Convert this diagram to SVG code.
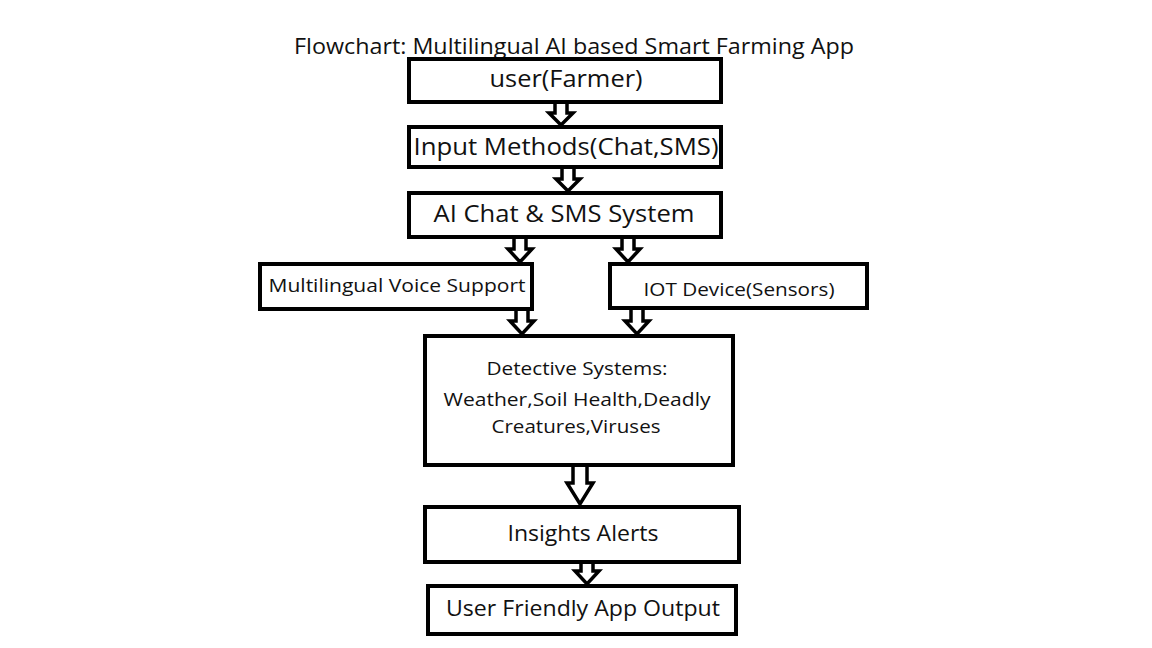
<svg xmlns="http://www.w3.org/2000/svg" width="1152" height="648" viewBox="0 0 1152 648">
<style>
.box{fill:#fff;stroke:#000;stroke-width:4}
.arr{fill:#fff;stroke:#000;stroke-width:3.5;stroke-linejoin:miter}
text{font-family:"Open Sans","Liberation Sans",sans-serif;fill:#111;text-anchor:middle}
.t24{font-size:23px}
.t19{font-size:18.5px}
.t21{font-size:21px}
</style>
<rect width="1152" height="648" fill="#fff"/>
<text x="574" y="54" font-size="21" textLength="560" lengthAdjust="spacingAndGlyphs">Flowchart: Multilingual AI based Smart Farming App</text>
<g id="connectors">
<polygon class="arr" points="555,100 567,100 567,113 573,113 561,125 549,113 555,113"/>
<polygon class="arr" points="562,165 574,165 574,179 580,179 568,191 556,179 562,179"/>
<polygon class="arr" points="514,235 526,235 526,249 532,249 520,262 508,249 514,249"/>
<polygon class="arr" points="622,235 634,235 634,249 640,249 628,262 616,249 622,249"/>
<polygon class="arr" points="516,307 528,307 528,321 534,321 522,334 510,321 516,321"/>
<polygon class="arr" points="631,306 643,306 643,321 649,321 637,334 625,321 631,321"/>
<polygon class="arr" points="573,463 587,463 587,483 593,483 580,504 567,483 573,483"/>
<polygon class="arr" points="581,560 593,560 593,571 599,571 587,584 575,571 581,571"/>
</g>
<g id="n1"><rect class="box" x="409" y="59" width="312" height="43"/><text class="t24" x="566" y="87" textLength="153" lengthAdjust="spacingAndGlyphs">user(Farmer)</text></g>
<g id="n2"><rect class="box" x="409" y="127" width="312" height="40"/><text class="t24" x="566" y="155" textLength="305" lengthAdjust="spacingAndGlyphs">Input Methods(Chat,SMS)</text></g>
<g id="n3"><rect class="box" x="409" y="193" width="312" height="44"/><text class="t24" x="564" y="222" textLength="261" lengthAdjust="spacingAndGlyphs">AI Chat &amp; SMS System</text></g>
<g id="n4"><rect class="box" x="260" y="264" width="272" height="45"/><text class="t19" x="397" y="292" textLength="257" lengthAdjust="spacingAndGlyphs">Multilingual Voice Support</text></g>
<g id="n5"><rect class="box" x="610" y="264" width="257" height="44"/><text class="t19" x="739" y="296" textLength="191" lengthAdjust="spacingAndGlyphs">IOT Device(Sensors)</text></g>
<g id="n6"><rect class="box" x="425" y="336" width="308" height="129"/>
<text class="t19" x="577" y="375" textLength="181" lengthAdjust="spacingAndGlyphs">Detective Systems:</text>
<text class="t19" x="577" y="406" textLength="267" lengthAdjust="spacingAndGlyphs">Weather,Soil Health,Deadly</text>
<text class="t19" x="576" y="433" textLength="169" lengthAdjust="spacingAndGlyphs">Creatures,Viruses</text></g>
<g id="n7"><rect class="box" x="425" y="507" width="314" height="55"/><text class="t21" x="583" y="541" textLength="151" lengthAdjust="spacingAndGlyphs">Insights Alerts</text></g>
<g id="n8"><rect class="box" x="428" y="586" width="308" height="48"/><text class="t21" x="583" y="616" textLength="274" lengthAdjust="spacingAndGlyphs">User Friendly App Output</text></g>
</svg>
